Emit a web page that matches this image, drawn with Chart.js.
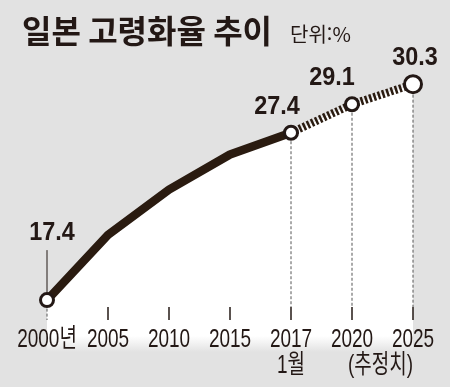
<!DOCTYPE html>
<html lang="ko">
<head>
<meta charset="utf-8">
<title>일본 고령화율 추이</title>
<script src="https://cdn.jsdelivr.net/npm/chart.js@4.4.1/dist/chart.umd.min.js"></script>
<style>
  html, body { margin: 0; padding: 0; background: #e2e2e2; }
  #wrap { width: 450px; height: 387px; }
</style>
</head>
<body>
<div id="wrap"><canvas id="agingChart" width="450" height="387"></canvas></div>
<script>
/* ==================== 데이터 ==================== */
const years = ['2000년', '2005', '2010', '2015', '2017', '2020', '2025'];
const subLabels = ['', '', '', '', '1월', '', ''];
const estimateNote = '(추정치)';
const actualRate = [17.4, 21.3, 24.0, 26.1, 27.4, null, null];     // 실측
const projectedRate = [null, null, null, null, 27.4, 29.1, 30.3];  // 추정
const labelledIdx = [0, 4, 5, 6];

const titleText = '일본 고령화율 추이';
const unitText = '단위:%';

/* ==================== 스타일 ==================== */
const INK = '#231815';
const LINE = '#2a1b10';
const BG = '#e2e2e2';
const TICK_TOP = 307, TICK_BOTTOM = 320;

// 값 라벨 위치 (점 기준)
const labelOffset = {
  0: { dx: 5, dy: -60 },
  4: { dx: -14, dy: -19 },
  5: { dx: -20, dy: -19 },
  6: { dx: 2, dy: -19 }
};

function pointRadiusOf(i) { return i === 6 ? 8.5 : 6.5; }

// 가로로 눌린 글자 (좁은 서체 흉내)
function squeezeText(ctx, text, x, y, font, sx) {
  ctx.save();
  ctx.translate(x, y);
  ctx.scale(sx, 1);
  ctx.font = font;
  ctx.textAlign = 'center';
  ctx.textBaseline = 'alphabetic';
  ctx.fillText(text, 0, 0);
  ctx.restore();
}

/* ==================== 장식 플러그인 ==================== */
const decorPlugin = {
  id: 'decor',
  afterDatasetsDraw(chart) {
    const ctx = chart.ctx;
    const xs = chart.scales.x;
    const ys = chart.scales.y;
    ctx.save();
    ctx.fillStyle = INK;
    ctx.strokeStyle = INK;

    /* 제목 */
    ctx.font = 'bold 32px "Noto Sans CJK KR"';
    ctx.textAlign = 'left';
    ctx.textBaseline = 'alphabetic';
    ctx.fillText(titleText, 22, 43);
    ctx.font = '20px "Noto Sans CJK KR"';
    ctx.fillText(unitText, 290, 42);

    /* 눈금 */
    years.forEach((_, i) => {
      const px = xs.getPixelForValue(i);
      if (i > 0) {
        ctx.setLineDash([]);
        ctx.lineWidth = 1.5;
        ctx.beginPath();
        ctx.moveTo(px, TICK_TOP);
        ctx.lineTo(px, TICK_BOTTOM);
        ctx.stroke();
      }
    });

    /* 점선 안내선 + 값 라벨 */
    labelledIdx.forEach(i => {
      const v = projectedRate[i] ?? actualRate[i];
      const px = xs.getPixelForValue(i);
      const py = ys.getPixelForValue(v);
      const r = pointRadiusOf(i);
      ctx.lineWidth = 1;
      ctx.strokeStyle = '#555';
      ctx.setLineDash([3, 2]);
      ctx.beginPath();
      ctx.moveTo(px, py + r + 2);
      ctx.lineTo(px, i === 0 ? TICK_BOTTOM : TICK_TOP);
      ctx.stroke();
      ctx.setLineDash([]);
      ctx.strokeStyle = INK;

      const off = labelOffset[i];
      squeezeText(ctx, v.toFixed(1), px + off.dx, py + off.dy,
        'bold 26px "Liberation Sans"', 0.9);

      // 17.4 지시선
      if (i === 0) {
        ctx.lineWidth = 1;
        ctx.beginPath();
        ctx.moveTo(px, py + off.dy + 10);
        ctx.lineTo(px, py - r - 1.5);
        ctx.stroke();
      }
    });

    /* x축 라벨 */
    const axisFont = '26px "Liberation Sans", "Noto Sans CJK KR"';
    years.forEach((lab, i) => {
      const px = xs.getPixelForValue(i);
      squeezeText(ctx, lab, px, 347, axisFont, 0.73);
      if (subLabels[i]) squeezeText(ctx, subLabels[i], px, 373, axisFont, 0.73);
    });
    const noteX = (xs.getPixelForValue(5) + xs.getPixelForValue(6)) / 2;
    squeezeText(ctx, estimateNote, noteX - 2, 373, axisFont, 0.73);

    ctx.restore();
  }
};

/* ==================== 아래쪽 흰 배경 채움 ==================== */
function underFill(c) {
  const chart = c.chart;
  const area = chart.chartArea;
  if (!area) return '#ffffff';
  const g = chart.ctx.createLinearGradient(0, area.top, 0, area.bottom);
  const h = area.bottom - area.top;
  g.addColorStop(0, '#ffffff');
  g.addColorStop((336 - area.top) / h, '#ffffff');
  g.addColorStop(1, BG);
  return g;
}

/* ==================== 차트 ==================== */
new Chart(document.getElementById('agingChart'), {
  type: 'line',
  data: {
    labels: years,
    datasets: [
      {
        label: '추정',
        data: projectedRate,
        order: 0,
        borderColor: LINE,
        borderWidth: 8,
        borderDash: [2.5, 2],
        backgroundColor: underFill,
        fill: 'start',
        tension: 0,
        clip: false,
        pointRadius: projectedRate.map((v, i) => (v === null ? 0 : pointRadiusOf(i))),
        pointBackgroundColor: '#ffffff',
        pointBorderColor: INK,
        pointBorderWidth: 3
      },
      {
        label: '실측',
        data: actualRate,
        order: 1,
        borderColor: LINE,
        borderWidth: 8.5,
        borderJoinStyle: 'round',
        backgroundColor: underFill,
        fill: 'start',
        tension: 0,
        clip: false,
        pointRadius: actualRate.map((v, i) => (i === 0 ? pointRadiusOf(i) : 0)),
        pointBackgroundColor: '#ffffff',
        pointBorderColor: INK,
        pointBorderWidth: 3
      }
    ]
  },
  options: {
    responsive: false,
    animation: false,
    events: [],
    layout: { padding: { left: 47, right: 37, top: 39, bottom: 35 } },
    plugins: {
      legend: { display: false },
      tooltip: { enabled: false },
      filler: { drawTime: 'beforeDatasetsDraw' }
    },
    scales: {
      x: { display: false, offset: false },
      y: { display: false, min: 14.3, max: 33 }
    }
  },
  plugins: [decorPlugin]
});
</script>
</body>
</html>
